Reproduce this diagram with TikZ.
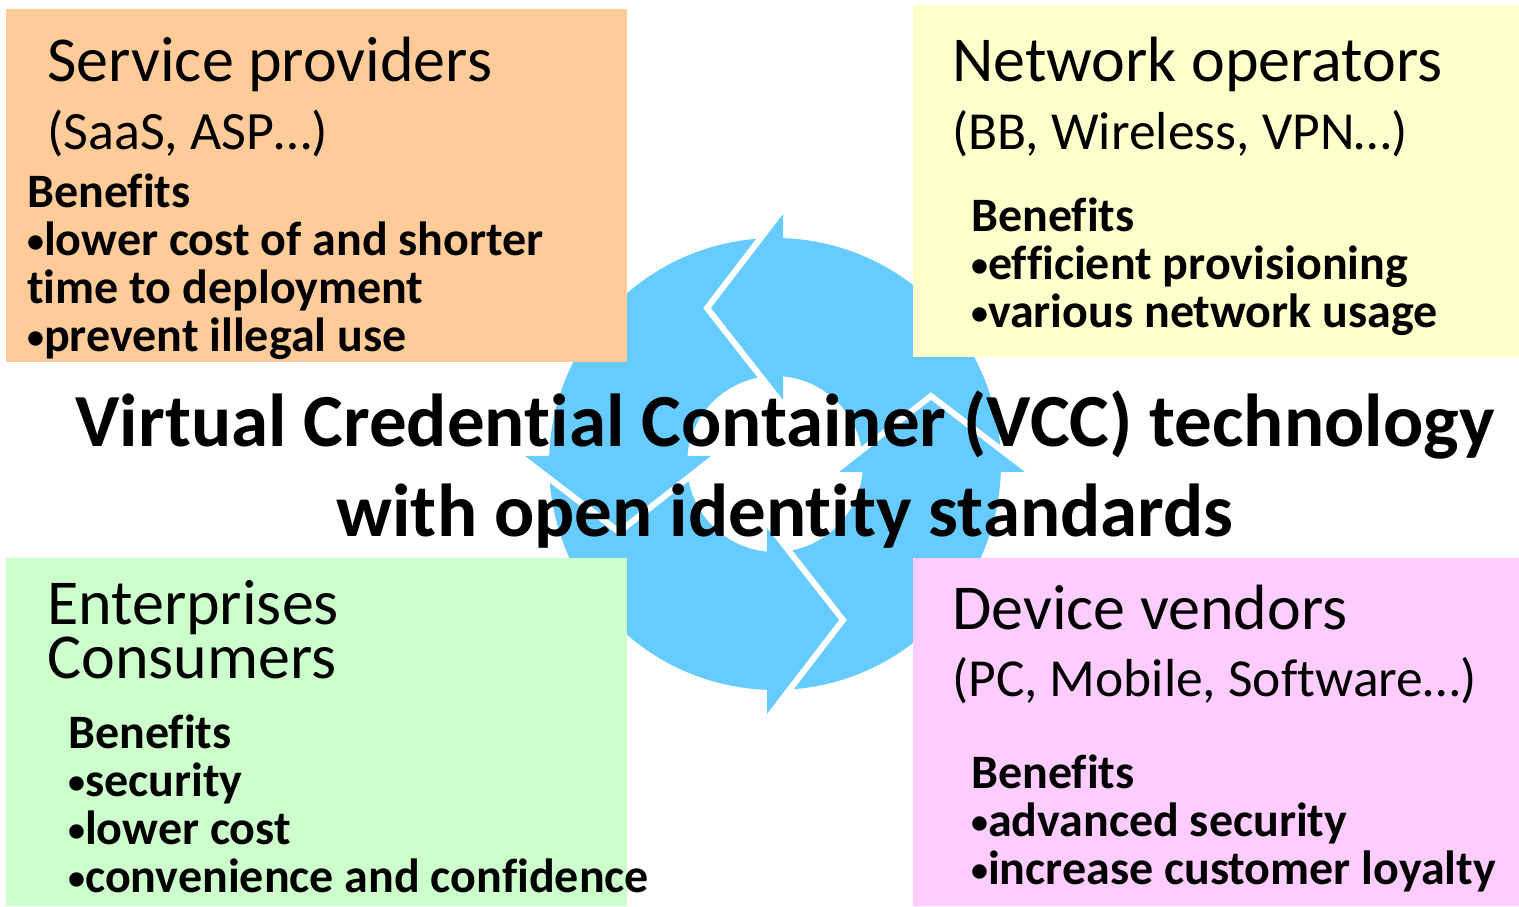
\documentclass[tikz,border=0pt]{standalone}
\usepackage{fontspec}
\setmainfont{Carlito}[Ligatures={NoCommon,NoContextual,NoRequired}, Contextuals=NoAlternate]
\usepackage{tikz}
\definecolor{vccblue}{HTML}{66CCFF}
\definecolor{sporange}{HTML}{FFCC99}
\definecolor{nwyellow}{HTML}{FFFFCC}
\definecolor{engreen}{HTML}{CCFFCC}
\definecolor{dvpink}{HTML}{FFCCFF}
\newcommand{\vccbullet}{{\fontsize{34}{34}\selectfont\raisebox{3pt}{•}}}
\tikzset{
  quad/.style={anchor=north west, inner sep=0pt, outer sep=0pt},
  group/.style={font=\fontsize{64}{64}\selectfont, anchor=base west, inner sep=0pt},
  kind/.style={font=\fontsize{54}{54}\selectfont, anchor=base west, inner sep=0pt},
  benefit/.style={font=\bfseries\fontsize{48}{48}\selectfont, anchor=base west, inner sep=0pt},
  vcc/.style={font=\bfseries\fontsize{75}{75}\selectfont, anchor=base, inner sep=0pt},
  gap/.style={draw=white, line width=6pt, line join=miter},
}

\begin{document}
\begin{tikzpicture}[x=1pt, y=1pt]
  \useasboundingbox (0,0) rectangle (1519,906);
  % cycle of four arrows
  \begin{scope}[shift={(775,442)}]
    \foreach \k in {0,...,3}
      \fill[vccblue, rotate=90*\k] (3.71:226) arc[start angle=3.71, end angle=87.97, radius=226]
        -- (8,255) -- (-68,156) -- (8,59) -- (84.78:88)
        arc[start angle=84.78, end angle=9.07, radius=88] -- (156,68) -- cycle;
    \foreach \k in {0,...,3}
      \draw[gap, rotate=90*\k] (8,255) -- (-68,156) -- (8,59);
  \end{scope}

  \node[quad, fill=sporange, minimum width=621pt, minimum height=353pt] (sp) at (6,897) {};
  \node[quad, fill=nwyellow, minimum width=606pt, minimum height=352pt] (nw) at (913,901) {};
  \node[quad, fill=engreen, minimum width=621pt, minimum height=348pt] (en) at (6,348) {};
  \node[quad, fill=dvpink, minimum width=606pt, minimum height=348pt] (dv) at (913,348) {};

  \node[group] (sp-t) at (47,824) {Service providers};
  \node[kind] (sp-s) at (47,756) {(SaaS, ASP…)};
  \node[benefit] (sp-b) at (27,698) {Benefits};
  \foreach \t [count=\i] in {\vccbullet lower cost of and shorter, time to deployment, \vccbullet prevent illegal use}
    \node[benefit] (sp-\i) at (27,698-48*\i) {\t};

  \node[group] (nw-t) at (952,824) {Network operators};
  \node[kind, font=\fontsize{53.5}{54}\selectfont] (nw-s) at (952,756) {(BB, Wireless, VPN…)};
  \node[benefit] (nw-b) at (971,674) {Benefits};
  \foreach \t [count=\i] in {\vccbullet efficient provisioning, \vccbullet various network usage}
    \node[benefit] (nw-\i) at (971,674-48*\i) {\t};

  \node[group] (en-t) at (47,281) {Enterprises};
  \node[group] (en-c) at (47,227) {Consumers};
  \node[benefit] (en-b) at (68,158) {Benefits};
  \foreach \t [count=\i] in {\vccbullet security, \vccbullet lower cost, \vccbullet convenience and confidence}
    \node[benefit] (en-\i) at (68,158-48*\i) {\t};

  \node[group] (dv-t) at (952,276) {Device vendors};
  \node[kind, font=\fontsize{53.5}{54}\selectfont] (dv-s) at (952,209) {(PC, Mobile, Software…)};
  \node[benefit] (dv-b) at (971,118) {Benefits};
  \foreach \t [count=\i] in {\vccbullet advanced security, \vccbullet increase customer loyalty}
    \node[benefit] (dv-\i) at (971,118-48*\i) {\t};

  \node[vcc] (vcc1) at (785,459) {Virtual Credent\kern0pt ial Container (VCC) technology};
  \node[vcc] (vcc2) at (785,369) {with open ident\kern0pt ity standards};
\end{tikzpicture}
\end{document}
